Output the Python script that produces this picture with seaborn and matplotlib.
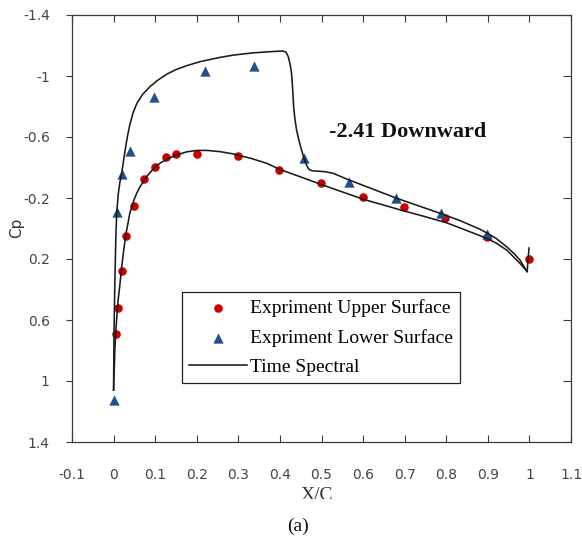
import matplotlib
matplotlib.use("Agg")
import matplotlib.pyplot as plt
from matplotlib.transforms import Bbox, TransformedBbox
import pandas as pd
import seaborn as sns

# Experimental pressure coefficients, upper surface
upper_x = [0.005, 0.011, 0.021, 0.030, 0.050, 0.074, 0.100, 0.125, 0.149, 0.201,
           0.299, 0.398, 0.499, 0.600, 0.699, 0.798, 0.897, 0.998]
upper_cp = [0.69, 0.523, 0.279, 0.047, -0.148, -0.325, -0.405, -0.467, -0.491, -0.491,
            -0.475, -0.384, -0.300, -0.209, -0.141, -0.067, 0.058, 0.202]

# Experimental pressure coefficients, lower surface
lower_x = [0.000, 0.008, 0.020, 0.039, 0.098, 0.220, 0.338, 0.457, 0.567, 0.678, 0.788, 0.897]
lower_cp = [1.124, -0.106, -0.355, -0.508, -0.864, -1.033, -1.068, -0.462, -0.307, -0.202, -0.100, 0.038]

# Time spectral solution, suction side (shock near 43% chord)
ts_a_x = [0.0, 0.001, 0.003, 0.0055, 0.0075, 0.011, 0.015, 0.0195, 0.027, 0.033, 0.039,
          0.047, 0.056, 0.070, 0.0875, 0.105, 0.128, 0.150, 0.176, 0.208, 0.256, 0.288,
          0.336, 0.380, 0.408, 0.415, 0.420, 0.425, 0.428, 0.431, 0.433, 0.436, 0.440,
          0.446, 0.452, 0.458, 0.464, 0.468, 0.472, 0.480, 0.496, 0.510, 0.528, 0.560,
          0.640, 0.681, 0.785, 0.833, 0.860, 0.881, 0.897, 0.920, 0.945, 0.965, 0.977, 0.9945]
ts_a_cp = [1.06, 0.687, 0.359, 0.05, -0.10, -0.22, -0.30, -0.362, -0.50, -0.60, -0.68,
           -0.76, -0.821, -0.88, -0.93, -0.97, -1.012, -1.042, -1.068, -1.094, -1.122, -1.137,
           -1.152, -1.160, -1.164, -1.155, -1.127, -1.07, -1.018, -0.90, -0.80, -0.72, -0.646,
           -0.575, -0.515, -0.46, -0.416, -0.395, -0.384, -0.378, -0.375, -0.372, -0.362, -0.325,
           -0.241, -0.198, -0.100, -0.052, -0.020, 0.005, 0.028, 0.065, 0.119, 0.170, 0.206, 0.283]

# Time spectral solution, pressure side
ts_b_x = [0.0, 0.003, 0.005, 0.008, 0.011, 0.0155, 0.0195, 0.025, 0.030, 0.035, 0.039,
          0.049, 0.0555, 0.065, 0.0795, 0.095, 0.1115, 0.130, 0.152, 0.175, 0.200, 0.225,
          0.256, 0.288, 0.330, 0.368, 0.400, 0.450, 0.496, 0.550, 0.600, 0.650, 0.696,
          0.750, 0.800, 0.833, 0.897, 0.920, 0.945, 0.965, 0.977, 0.9945, 0.999]
ts_b_cp = [1.06, 0.80, 0.687, 0.57, 0.469, 0.36, 0.250, 0.13, 0.031, -0.04, -0.100,
           -0.187, -0.231, -0.28, -0.340, -0.39, -0.428, -0.457, -0.482, -0.502, -0.512, -0.512,
           -0.504, -0.489, -0.46, -0.428, -0.387, -0.338, -0.292, -0.24, -0.192, -0.153, -0.117,
           -0.077, -0.038, -0.004, 0.064, 0.095, 0.141, 0.195, 0.228, 0.283, 0.128]

x_ticks = [-0.1, 0.0, 0.1, 0.2, 0.3, 0.4, 0.5, 0.6, 0.7, 0.8, 0.9, 1.0, 1.1]
x_tick_labels = ["-0.1", "0", "0.1", "0.2", "0.3", "0.4", "0.5", "0.6", "0.7", "0.8", "0.9", "1", "1.1"]
y_ticks = [-1.4, -1.0, -0.6, -0.2, 0.2, 0.6, 1.0, 1.4]
y_tick_labels = ["-1.4", "-1", "-0.6", "-0.2", "0.2", "0.6", "1", "1.4"]

plt.rcParams["axes.unicode_minus"] = False
plt.rcParams["font.family"] = ["DejaVu Sans"]

W, H = 582, 539
fig = plt.figure(figsize=(W / 100, H / 100), dpi=100)
fig.patch.set_facecolor("white")

L, R, T, B = 72, 571, 15, 442
ax = fig.add_axes([L / W, 1 - B / H, (R - L) / W, (B - T) / H])
ax.set_facecolor("white")

df_up = pd.DataFrame({"x": upper_x, "cp": upper_cp})
df_lo = pd.DataFrame({"x": lower_x, "cp": lower_cp})
df_a = pd.DataFrame({"x": ts_a_x, "cp": ts_a_cp})
df_b = pd.DataFrame({"x": ts_b_x, "cp": ts_b_cp})

red = "#cc0000"
blue = "#22508a"
sns.scatterplot(data=df_up, x="x", y="cp", ax=ax, color=red, marker="o", s=38,
                linewidth=0, label="Expriment Upper Surface", zorder=2)
sns.scatterplot(data=df_lo, x="x", y="cp", ax=ax, color=blue, marker="^", s=55,
                linewidth=0, label="Expriment Lower Surface", zorder=2)
sns.lineplot(data=df_a, x="x", y="cp", ax=ax, sort=False, estimator=None, color="#1a1a1a",
             linewidth=1.15, label="Time Spectral", zorder=3)
sns.lineplot(data=df_b, x="x", y="cp", ax=ax, sort=False, estimator=None, color="#1a1a1a",
             linewidth=1.15, label="_nolegend_", zorder=3)
for ln in ax.get_lines():
    ln.set_solid_joinstyle("round")

ax.set_xlim(-0.1, 1.1)
ax.set_ylim(1.4, -1.4)
ax.set_xticks(x_ticks)
ax.set_xticklabels(x_tick_labels)
ax.set_yticks(y_ticks)
ax.set_yticklabels(y_tick_labels)
ax.set_xlabel("")
ax.set_ylabel("")

for sp in ax.spines.values():
    sp.set_color("#3a3a3a")
    sp.set_linewidth(0.9)

tick_color = "#444444"
ax.tick_params(axis="x", which="both", direction="in", top=True, bottom=True,
               length=5, width=0.8, color="#3a3a3a", labelsize=10,
               labelcolor=tick_color, pad=19)
ax.tick_params(axis="y", which="both", left=True, right=False, direction="out",
               length=4, width=0.8, color="#3a3a3a", labelsize=10,
               labelcolor=tick_color, pad=12)

# inward ticks along the right spine
ax_r = ax.twinx()
ax_r.set_ylim(ax.get_ylim())
ax_r.set_yticks(y_ticks)
ax_r.tick_params(axis="y", direction="in", length=6, width=0.8, color="#3a3a3a",
                 labelright=False)
for sp in ax_r.spines.values():
    sp.set_visible(False)

leg = ax.legend(loc="upper left", bbox_to_anchor=((182 - L) / (R - L), (B - 292) / (B - T)),
                borderaxespad=0, frameon=True, fancybox=False, framealpha=1,
                edgecolor="#222222", handlelength=3.0, handletextpad=0.15,
                borderpad=0.35, labelspacing=0.62,
                prop={"family": "Liberation Serif", "size": 14})
leg.get_frame().set_linewidth(0.9)

ax.text(0.518, -0.60, "-2.41 Downward", ha="left", va="baseline",
        fontfamily="Liberation Serif", fontweight="bold", fontsize=16, color="#111111")

fig.text(16.5 / W, 1 - 228 / H, "Cp", rotation=90, ha="center", va="center",
         fontsize=11, color="#333333")

xl = fig.text(317 / W, 1 - 487 / H, "X/C", ha="center", va="top",
              fontfamily="Liberation Serif", fontsize=14, color="#333333")
xl.set_clip_box(TransformedBbox(Bbox([[0, (H - 499) / H], [1, 1]]), fig.transFigure))
xl.set_clip_on(True)

fig.text(298 / W, 1 - 526 / H, "(a)", ha="center", va="center",
         fontfamily="Liberation Serif", fontsize=14, color="#111111")

fig.savefig("out.png", dpi=100)
